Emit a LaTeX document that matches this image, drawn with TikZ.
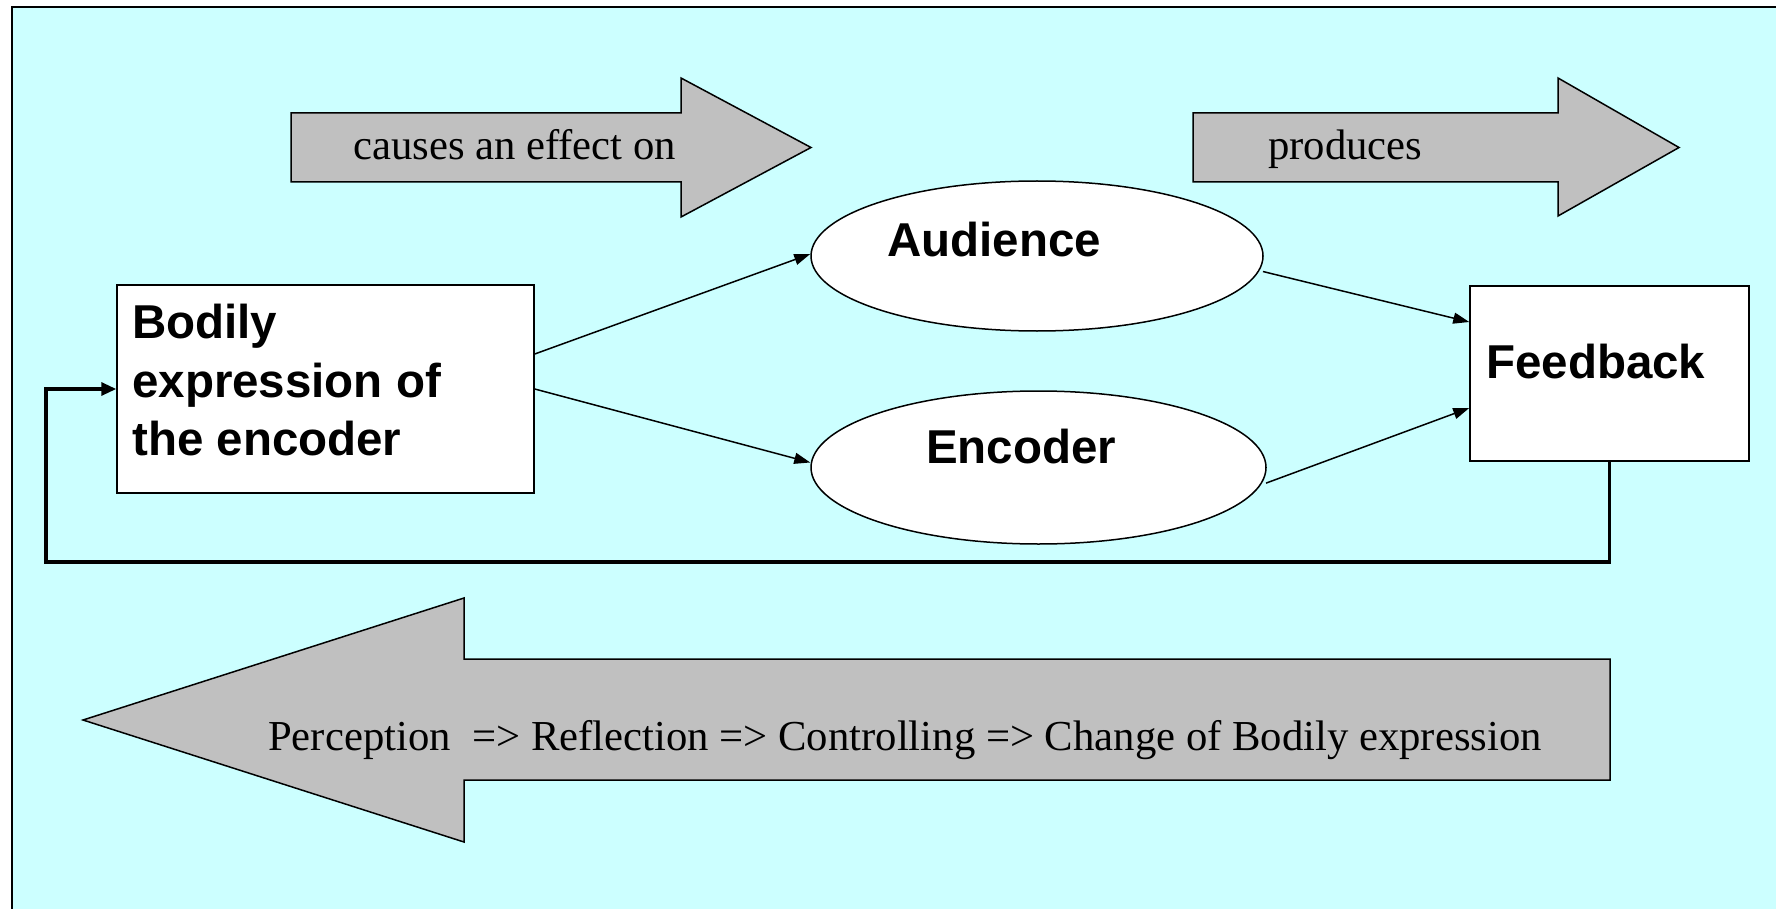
\documentclass[tikz,border=0pt]{standalone}
\usepackage{fontspec}
\setmainfont{Liberation Serif}
\setsansfont{Liberation Sans}
\usetikzlibrary{arrows.meta,shapes.geometric}
\definecolor{paneCyan}{HTML}{CCFFFF}
\definecolor{blockGray}{HTML}{C0C0C0}
\tikzset{
  plainbox/.style={draw=black, line width=1.5pt, fill=white, rectangle, inner sep=0pt},
  oval/.style={draw=black, line width=1.5pt, fill=white, ellipse, inner sep=0pt},
  blockarrow/.style={draw=black, line width=1.5pt, fill=blockGray, line join=miter},
  boldlbl/.style={inner sep=0pt, anchor=base west, font=\sffamily\bfseries\fontsize{47.5}{58}\selectfont},
  seriflbl/.style={inner sep=0pt, anchor=base west, font=\rmfamily\fontsize{42.7}{51}\selectfont},
  conn/.style={draw=black, line width=1.5pt, -{Triangle[length=16pt,width=11pt]}},
  loopline/.style={draw=black, line width=3.2pt, -{Triangle[length=15pt,width=13pt]}}
}
\begin{document}
\begin{tikzpicture}[x=1pt,y=-1pt]
\useasboundingbox (0,0) rectangle (1776,909);
\clip (0,0) rectangle (1776,909);
% page and panel
\fill[white] (0,0) rectangle (1776,909);
\draw[line width=2pt, fill=paneCyan] (12,7) rectangle (1800,940);

% block arrows
\draw[blockarrow] (291,113) -- (681,113) -- (681,78) -- (811,147.5) -- (681,217) -- (681,182) -- (291,182) -- cycle;
\draw[blockarrow] (1193,113) -- (1558,113) -- (1558,78) -- (1679,147.5) -- (1558,216) -- (1558,182) -- (1193,182) -- cycle;
\draw[blockarrow] (1610,659) -- (464,659) -- (464,598) -- (83,720) -- (464,842) -- (464,780) -- (1610,780) -- cycle;
\node[seriflbl] (causes) at (353,160) {causes an effect on};
\node[seriflbl] (produces) at (1268,160) {produces};
\node[seriflbl] (cycle) at (268,750) {Perception~ => Reflection => Controlling => Change of Bodily expression};

% boxes and ovals
\node[plainbox, minimum width=417pt, minimum height=208pt] (bodily) at (325.5,389) {};
\node[oval, minimum width=452pt, minimum height=150pt] (aud) at (1037,256) {};
\node[oval, minimum width=455pt, minimum height=153pt] (enc) at (1038.5,467.5) {};
\node[plainbox, minimum width=279pt, minimum height=175pt] (fb) at (1609.5,373.5) {};

\node[boldlbl] (bodilyA) at (132,338) {Bodily};
\node[boldlbl] (bodilyB) at (132,397) {expression of};
\node[boldlbl] (bodilyC) at (132,455) {the encoder};
\node[boldlbl] (audtxt) at (887,256) {Audience};
\node[boldlbl] (enctxt) at (926,463) {Encoder};
\node[boldlbl] (fbtxt) at (1486,378) {Feedback};

% connectors
\draw[conn] ([yshift=35pt]bodily.east) -- ([yshift=2pt]aud.west);
\draw[conn] (bodily.east) -- ([yshift=5pt]enc.west);
\draw[conn] ([xshift=4pt]aud.-4) -- ([yshift=51.5pt]fb.west);
\draw[conn] ([xshift=4pt]enc.-4) -- ([yshift=-34.5pt]fb.west);

% feedback loop
\coordinate (loopcorner) at (46,562);
\draw[loopline] (fb.south) |- (loopcorner) |- (bodily.west);
\end{tikzpicture}
\end{document}
